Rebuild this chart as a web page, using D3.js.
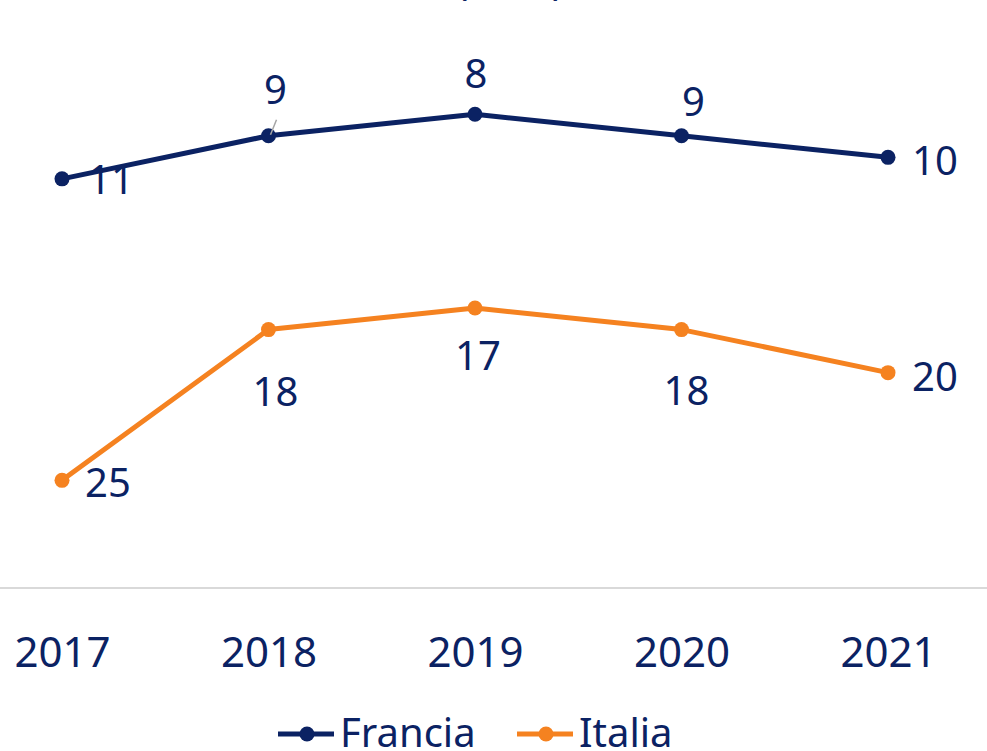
<!DOCTYPE html>
<html>
<head>
<meta charset="utf-8">
<script src="https://cdn.jsdelivr.net/npm/d3@7"></script>
<style>
  html, body { margin: 0; padding: 0; background: #fff; overflow: hidden; }
  svg { display: block; font-family: "Noto Sans", "Open Sans", sans-serif; }
</style>
</head>
<body>
<svg id="chart" width="987" height="751"></svg>
<script>
// ---- data ----
const years = ["2017", "2018", "2019", "2020", "2021"];
const francia = [11, 9, 8, 9, 10];
const italia = [25, 18, 17, 18, 20];
const seriesNames = ["Francia", "Italia"];
const titleText = "(rank)";

// ---- label placement (offsets from each point, in px) ----
const franciaLabelAnchor = ["start", "middle", "middle", "middle", "start"];
const franciaLabelDx = [26, 7, 1, 12, 24];
const franciaLabelDy = [15, -32, -26, -20, 18];
const italiaLabelAnchor = ["start", "middle", "middle", "middle", "start"];
const italiaLabelDx = [23, 7, 3, 5, 24];
const italiaLabelDy = [17, 76, 62, 75, 18];

// ---- styling ----
const W = 987, H = 751;
const navy = "#0b2263";
const orange = "#f58220";
const textColor = "#0b2263";

const svg = d3.select("#chart");

const x = d3.scalePoint().domain(years).range([62, 888]);
const y = d3.scaleLinear().domain([0, 30]).range([-58, 588]);

// partially visible title (cut off at top, as in the reference)
svg.append("text")
  .attr("x", 510).attr("y", -5)
  .attr("text-anchor", "middle")
  .attr("font-size", 40)
  .attr("fill", textColor)
  .text(titleText);

// x axis baseline
svg.append("line")
  .attr("x1", 0).attr("x2", W)
  .attr("y1", y(30)).attr("y2", y(30))
  .attr("stroke", "#d9d9d9").attr("stroke-width", 2);

// x axis labels
const xAxis = d3.axisBottom(x).tickSize(0).tickPadding(0);
const gx = svg.append("g").attr("transform", `translate(0,${y(30)})`).call(xAxis);
gx.select(".domain").remove();
gx.selectAll("text")
  .attr("y", 79).attr("dy", null)
  .attr("font-size", 42)
  .attr("font-family", "Noto Sans")
  .attr("fill", textColor);

const series = [
  { name: seriesNames[0], values: francia, color: navy,
    anchor: franciaLabelAnchor, dx: franciaLabelDx, dy: franciaLabelDy },
  { name: seriesNames[1], values: italia, color: orange,
    anchor: italiaLabelAnchor, dx: italiaLabelDx, dy: italiaLabelDy }
];

const line = d3.line().x((d, i) => x(years[i])).y(d => y(d));

series.forEach(s => {
  const g = svg.append("g");
  g.append("path")
    .datum(s.values)
    .attr("d", line)
    .attr("fill", "none")
    .attr("stroke", s.color)
    .attr("stroke-width", 5)
    .attr("stroke-linejoin", "round");
  g.selectAll("circle")
    .data(s.values)
    .join("circle")
    .attr("cx", (d, i) => x(years[i]))
    .attr("cy", d => y(d))
    .attr("r", 7.5)
    .attr("fill", s.color);
  g.selectAll("text.lbl")
    .data(s.values)
    .join("text")
    .attr("class", "lbl")
    .attr("font-size", 40)
    .attr("fill", textColor)
    .attr("text-anchor", (d, i) => s.anchor[i])
    .attr("x", (d, i) => x(years[i]) + s.dx[i])
    .attr("y", (d, i) => y(d) + s.dy[i])
    .text(d => d);
});

// leader line for the 2018 Francia label
svg.append("line")
  .attr("x1", x("2018") + 2).attr("y1", y(francia[1]) - 1)
  .attr("x2", x("2018") + 8).attr("y2", y(francia[1]) - 16)
  .attr("stroke", "#a6a6a6").attr("stroke-width", 1.5);

// legend
const legend = svg.append("g");
const legendItems = [
  { name: seriesNames[0], color: navy, x0: 278 },
  { name: seriesNames[1], color: orange, x0: 517 }
];
legendItems.forEach(it => {
  legend.append("line")
    .attr("x1", it.x0).attr("x2", it.x0 + 56)
    .attr("y1", 734).attr("y2", 734)
    .attr("stroke", it.color).attr("stroke-width", 5);
  legend.append("circle")
    .attr("cx", it.x0 + 29).attr("cy", 734).attr("r", 7.5)
    .attr("fill", it.color);
  legend.append("text")
    .attr("x", it.x0 + 62).attr("y", 747)
    .attr("font-size", 40)
    .attr("fill", textColor)
    .text(it.name);
});
</script>
</body>
</html>
